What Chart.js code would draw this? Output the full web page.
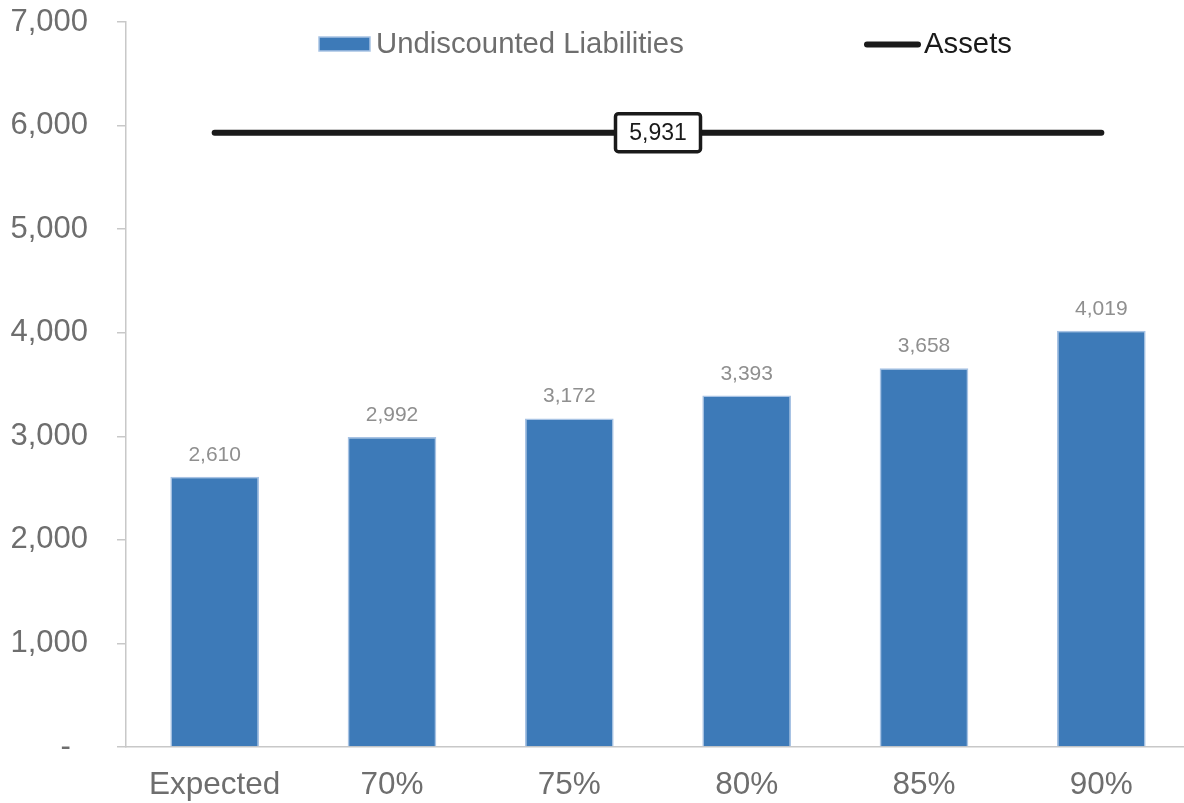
<!DOCTYPE html>
<html>
<head>
<meta charset="utf-8">
<script src="https://cdn.jsdelivr.net/npm/chart.js@4"></script>
<style>
  html, body { margin: 0; padding: 0; background: #fff; overflow: hidden; }
  #wrap { width: 1190px; height: 803px; }
</style>
</head>
<body>
<div id="wrap"><canvas id="barChart" width="1190" height="803"></canvas></div>
<script>
const categories = ['Expected', '70%', '75%', '80%', '85%', '90%'];
const liabilities = [2610, 2992, 3172, 3393, 3658, 4019];
const assets = [5931, 5931, 5931, 5931, 5931, 5931];
const assetsLabel = 5931;

const FONT = '"Liberation Sans", Arial, sans-serif';
const BLUE = '#3d7ab8';
const BLUE_EDGE = '#a8c3e4';

// value labels over bars + boxed label on the assets line
const labelPlugin = {
    id: 'labelPlugin',
    afterDatasetsDraw(chart) {
        const ctx = chart.ctx;
        ctx.save();
        const barMeta = chart.getDatasetMeta(0);
        ctx.font = '21px ' + FONT;
        ctx.fillStyle = '#8f8f8f';
        ctx.textAlign = 'center';
        ctx.textBaseline = 'alphabetic';
        barMeta.data.forEach((bar, i) => {
            ctx.fillText(liabilities[i].toLocaleString('en-US'), bar.x, bar.y - 16);
        });

        const lineMeta = chart.getDatasetMeta(1);
        const pts = lineMeta.data;
        const cx = (pts[0].x + pts[pts.length - 1].x) / 2;
        const cy = chart.scales.y.getPixelForValue(assetsLabel);
        const w = 85, h = 38;
        ctx.beginPath();
        ctx.roundRect(cx - w / 2, cy - h / 2, w, h, 3);
        ctx.fillStyle = '#fff';
        ctx.fill();
        ctx.lineWidth = 3.5;
        ctx.strokeStyle = '#1a1a1a';
        ctx.stroke();
        ctx.font = '23px ' + FONT;
        ctx.fillStyle = '#1a1a1a';
        ctx.textBaseline = 'middle';
        ctx.fillText(assetsLabel.toLocaleString('en-US'), cx, cy + 1);
        ctx.restore();
    }
};

// legend drawn inside the plot area like the original
const legendPlugin = {
    id: 'legendPlugin',
    afterDraw(chart) {
        const ctx = chart.ctx;
        ctx.save();
        ctx.fillStyle = BLUE;
        ctx.fillRect(319, 37, 51, 14);
        ctx.strokeStyle = BLUE_EDGE;
        ctx.lineWidth = 1.5;
        ctx.strokeRect(319, 37, 51, 14);
        ctx.font = '29.3px ' + FONT;
        ctx.textBaseline = 'middle';
        ctx.textAlign = 'left';
        ctx.fillStyle = '#6e6e6e';
        ctx.fillText('Undiscounted Liabilities', 376, 45);

        ctx.beginPath();
        ctx.moveTo(867, 44.5);
        ctx.lineTo(918, 44.5);
        ctx.lineWidth = 6;
        ctx.lineCap = 'round';
        ctx.strokeStyle = '#1a1a1a';
        ctx.stroke();
        ctx.fillStyle = '#1a1a1a';
        ctx.fillText('Assets', 924, 45);
        ctx.restore();
    }
};

const ctxBar = document.getElementById('barChart').getContext('2d');
const barChart = new Chart(ctxBar, {
    type: 'bar',
    data: {
        labels: categories,
        datasets: [{
            label: 'Undiscounted Liabilities',
            data: liabilities,
            backgroundColor: BLUE,
            borderColor: BLUE_EDGE,
            borderWidth: 1.5,
            barPercentage: 0.5,
            categoryPercentage: 1,
            order: 2
        },
        {
            type: 'line',
            label: 'Assets',
            data: assets,
            borderColor: '#1a1a1a',
            borderWidth: 6,
            borderCapStyle: 'round',
            pointRadius: 0,
            fill: false,
            order: 1
        }]
    },
    options: {
        responsive: false,
        animation: false,
        layout: {
            padding: { left: 10, top: 22, right: 0, bottom: 0 }
        },
        plugins: {
            legend: { display: false },
            tooltip: { enabled: false }
        },
        scales: {
            x: {
                grid: { display: false, drawTicks: false },
                border: { color: '#c8c8c8', width: 1.5 },
                ticks: {
                    color: '#6e6e6e',
                    padding: 19,
                    font: { family: FONT, size: 31.5 }
                },
                afterFit(scale) {
                    scale.height = 56;
                    scale.paddingLeft = 0;
                    scale.paddingRight = 0;
                }
            },
            y: {
                min: 0,
                max: 7000,
                ticks: {
                    stepSize: 1000,
                    color: '#6e6e6e',
                    padding: 29,
                    font: { family: FONT, size: 31 },
                    // accounting style zero: dash sits left of the digit column
                    callback: v => v === 0 ? '-  ' : v.toLocaleString('en-US')
                },
                grid: {
                    drawOnChartArea: false,
                    drawTicks: true,
                    tickLength: 9,
                    color: '#c8c8c8',
                    lineWidth: 1.5
                },
                border: { color: '#c8c8c8', width: 1.5 },
                afterFit(scale) {
                    scale.width = 116;
                    scale.paddingTop = 0;
                    scale.paddingBottom = 0;
                }
            }
        }
    },
    plugins: [labelPlugin, legendPlugin]
});
</script>
</body>
</html>
